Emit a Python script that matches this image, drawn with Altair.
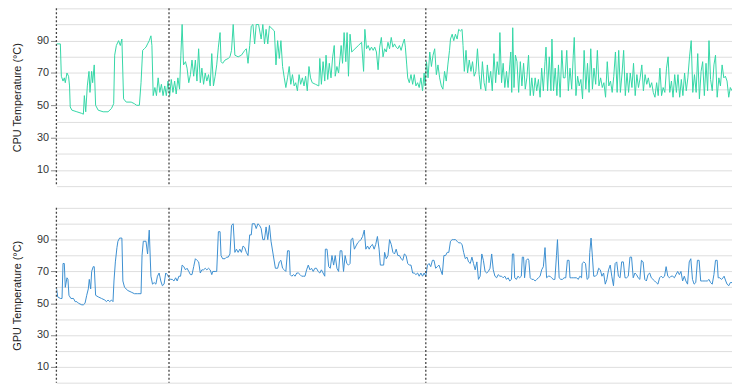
import altair as alt
import pandas as pd

# ---- data (time index, temperature °C) ----
cpu_t = [0, 4, 5, 6.7, 8, 9, 10.7, 12.3, 13.3, 14, 15.7, 20.7, 25.7, 27.3, 28.3, 29.7, 31.3, 33, 34, 35.7,
         36.7, 38.3, 39.7, 42.3, 47.3, 52.3, 55.7, 58, 59, 60.7, 63, 64.7, 66.3, 68, 70.7, 75.7, 79, 81.3, 84, 85.7,
         87.3, 89, 90.7, 92.3, 94, 95.7, 96.7, 98, 99.7, 101.3, 103, 104.7, 106.3, 108, 109.7, 111.3, 113, 114.7, 116.3, 118,
         119.7, 121.3, 123, 124.7, 126, 127.3, 128.7, 130.7, 132.3, 134, 135.7, 137.3, 139, 140.7, 142.3, 144, 145.7, 147.3, 149, 150.7,
         152.3, 154, 155.7, 157.3, 159, 160.7, 162.3, 164, 165.7, 166.7, 168.3, 170.7, 174, 175.7, 177.3, 179, 180.7, 184, 187.3, 190.7,
         192.3, 194, 195.7, 197.3, 199, 200.7, 202.3, 204.7, 207.3, 209, 210.7, 212.3, 214, 215.7,
         220.7, 222.3, 224, 225.7, 227.3, 229, 230.7, 232.3, 234, 235.7, 237.3, 239, 240.7, 242.3, 244, 245.7, 247.3, 249, 250.7, 252.3,
         254, 255.7, 257.3, 259, 262.3, 265.7, 266.7, 268.3, 270, 271.7, 273, 274.7, 276.3, 278, 279.7, 281.3, 282.3, 284, 285.7, 287.3,
         288.3, 289.7, 291.3, 293, 294.3, 295.7, 297.3, 299, 302.3, 305.7, 309, 311, 312.3, 314, 315.7, 317.3, 319, 320.7, 322.3, 324,
         325.7, 327.3, 329, 330.7, 332.3, 334, 335.7, 337.3, 339, 340.7, 342.3, 344, 345.7, 347.3, 349, 350.7, 352.3, 353.3, 354.7, 355.7,
         357.3, 359, 360.7, 362.3, 364, 365.7, 367.3, 369, 370.7, 372.3, 373.3, 374.7, 376.3, 378, 379.7, 381.3, 383, 384.7, 386.3, 388,
         389.7, 391.3, 393, 394.7, 396.3, 398, 399, 400.7, 402.3, 404, 405.7, 407.3, 409, 410.7, 411.7, 413, 414.7, 416.3, 418, 419.7,
         421.3, 423, 424.7, 426.3, 428, 429.7, 431.3, 433, 434.7, 436.3, 438, 439.7, 441.3, 443, 444.7, 446.3, 448,
         449, 450.7, 452.3, 454, 455.7, 457.3, 459, 460, 461, 462, 463.3, 464.7, 466.3, 468, 469.7, 471.3, 473, 474.7, 476.3, 478,
         479.7, 481.3, 483, 484.7, 486.3, 488, 489.7, 491.3, 493, 494.7, 495.7, 497.3, 499, 500.7, 501.7, 503.3, 505, 506.7, 508.3, 510,
         511.7, 513.3, 515, 516.7, 518.3, 520, 521.7, 523.3, 524.3, 526, 527.7, 529.3, 531, 532.7, 534.3, 536, 537.7, 539.3, 541, 542.7,
         544.3, 546, 547.7, 549.3, 551, 552.7, 554.3, 556, 557.7, 559.3, 561, 562.7, 564.3, 566, 567.7, 569.3, 571, 572.7, 574.3, 576,
         577.7, 579.3, 581, 582.7, 584.3, 586, 587.7, 589.3, 591, 592.7, 594.3, 596, 597.7, 599.3, 601, 602.7, 604.3, 606, 607.7, 609.3,
         611, 612.7, 614.3, 616, 617.7, 619.3, 621, 622.7, 624.3, 626, 627.7, 629.3, 631, 632.7, 634.3, 636, 637.7, 639.3, 641, 642.7,
         644.3, 646, 647.7, 649.3, 651, 652.7, 654.3, 656, 657.7, 659.3, 660.7, 662.3, 664, 665.7, 667.3, 669, 670.7, 672.3, 674, 675.7,
         677.3, 679, 680.7, 682.3, 684]
cpu_v = [88, 88, 68, 65, 67, 64, 70, 68, 62, 49, 47, 46, 45, 44.5, 56, 46, 62, 71, 58, 71,
         64, 75, 50, 47, 46, 46, 48, 51, 81, 87, 90, 87, 91, 54, 52, 52, 51, 50, 50, 64,
         84, 85, 86, 88, 90, 93, 87, 56, 61, 56, 67, 58, 63, 56, 62, 56, 65, 56, 66, 58,
         65, 57, 67, 60, 81, 100, 75, 77, 73, 64, 69, 78, 68, 78, 65, 85, 64, 73, 63, 70,
         65, 69, 62, 82, 62, 68, 75, 86, 95, 77, 76, 78, 79, 80, 84, 100, 81, 80, 81, 84,
         85, 76, 87, 99, 100, 88, 100, 100, 91, 100, 88, 97, 88, 99,
         96, 75, 90, 79, 90, 74, 67, 61, 67, 74, 63, 69, 62, 64, 59, 69, 63, 67, 62, 68,
         59, 74, 67, 64, 63, 62, 79, 63, 77, 65, 81, 66, 76, 67, 80, 87, 68, 74, 70, 80,
         87, 76, 95, 77, 95, 68, 94, 83, 85, 87, 89, 71, 97, 85, 87, 84, 86, 84, 86, 83,
         72, 86, 92, 80, 85, 83, 89, 85, 92, 86, 88, 86, 85, 87, 84, 88, 91, 86, 75, 67,
         64, 69, 63, 69, 62, 64, 61, 67, 59, 70, 62, 77, 67, 83, 74, 81, 85, 69, 75, 67,
         62, 60, 71, 65, 75, 84, 91, 94, 90, 94, 91, 97, 96, 97, 87, 71, 84, 70, 78, 71,
         77, 68, 71, 85, 69, 60, 77, 64, 59, 75, 64, 71, 59, 82, 64, 77, 69,
         95, 64, 76, 61, 71, 61, 75, 83, 58, 98, 61, 81, 77, 58, 77, 62, 76, 60, 67, 81,
         56, 67, 56, 67, 59, 66, 55, 73, 59, 77, 86, 59, 80, 59, 91, 59, 73, 56, 75, 55,
         84, 67, 67, 84, 59, 73, 60, 81, 92, 56, 68, 62, 66, 54, 84, 60, 76, 58, 85, 60,
         73, 63, 84, 62, 67, 61, 64, 55, 77, 62, 65, 58, 68, 83, 58, 84, 58, 70, 84, 56,
         70, 58, 70, 61, 76, 56, 69, 61, 67, 75, 59, 69, 63, 67, 61, 64, 58, 55, 64, 56,
         73, 56, 61, 58, 73, 80, 58, 65, 55, 69, 58, 69, 55, 66, 56, 70, 59, 67, 80, 90,
         58, 69, 58, 82, 54, 71, 77, 56, 76, 59, 90, 66, 59, 75, 81, 55, 67, 62, 75, 67,
         68, 65, 55, 61, 59]

gpu_t = [0, 1.3, 4, 5.7, 6.7, 8, 9, 10.7, 11.7, 12.7, 14.7, 17.3, 19, 20.7, 22.3, 25.7, 27.3, 29, 30.7, 32.3,
         33.3, 34.7, 35.7, 37.3, 38.3, 39.7, 42.3, 45.7, 49, 50.7, 52.3, 54, 55.7, 57.3, 58.3, 59.7, 61.3, 62.3, 64, 66.3,
         67.3, 69, 72.3, 75.7, 79, 82.3, 85.7, 86.7, 88, 90.7, 92.3, 94, 95.7, 97.3, 99, 100.7, 102.3, 104, 105.7, 107.3,
         109, 110.7, 112.3, 114, 115.7, 117.3, 119, 120.7, 122.3, 124, 125.7, 127.3, 129, 130.7, 132.3, 134, 135.7, 137.3, 139, 140.7,
         142.3, 144, 145.7, 147.3, 149, 150.7, 152.3, 154, 155.7, 157.3, 158.3, 160.7, 162.3, 164, 165.7, 166.7, 168.3, 170.7, 172.3, 174,
         175.7, 177.3, 179, 180.7, 182.3, 184, 185.7, 187.3, 189, 190.7, 192.3, 194, 195.7, 197.3, 198.3, 200.7, 202.3, 204, 205.7, 207.3,
         209, 210.7, 212.3, 214, 215.7, 217.3,
         221.7, 224, 225.7, 227.3, 229, 230.7, 232.3, 234, 235.7, 236.7, 238.3, 240, 241.7, 243.3, 245, 246.7, 248.3, 250, 251.7, 253.3,
         255, 256.7, 258.3, 260, 261.7, 263.3, 265, 266.7, 268.3, 270, 271.7, 272.3, 274, 275.7, 277.3, 279, 280.7, 282.3, 284, 285.7,
         287.3, 289, 290.7, 292.3, 294, 295.7, 297.3, 298.3, 300, 301.7, 303.3, 305, 306.7, 308.3, 310, 311.7, 313.3, 315, 316.7, 318.3,
         320, 321.7, 323.3, 325, 326.7, 328, 329.7, 331.3, 332.3, 334, 335.7, 337.3, 339, 340.7, 342.3, 344, 345.7, 347.3, 349, 350.7,
         352.3, 354, 355.7, 357.3, 359, 360.7, 362.3, 364, 365.7, 367.3, 369, 370.7, 372.3, 374, 375.7, 377.3, 379, 380.7, 382.3, 384,
         385.7, 387.3, 389, 390.7, 392.3, 394, 395.7, 397.3, 399, 400.7, 402.3, 404, 405.7, 407.3, 409, 410.7, 412.3, 414, 415.7, 417.3,
         419, 420.7, 422.3, 424, 425.7, 427.3, 429, 430.7, 432.3, 434, 435.7, 437.3, 439, 440.7, 442.3, 444, 445.7, 447.3, 449,
         450.7, 452.3, 454, 455.7, 457.3, 459, 460.7, 461.7, 463, 464, 465.7, 467.3, 469, 470.7, 471.7, 473, 474, 475.7, 477.3, 478.3,
         479.7, 481.3, 483, 484.7, 486.3, 488, 489.7, 491.3, 493, 494.7, 496.3, 498, 499.7, 501.3, 503, 504.7, 506.3, 507.3, 509, 510.7,
         512.3, 514, 515.7, 517.3, 519, 520, 521.7, 523.3, 525, 526.7, 528.3, 530, 531.7, 532.3, 534, 535.7, 537.3, 539, 540, 541.3,
         542.7, 544, 545.7, 547.3, 549, 550.7, 552.3, 554, 555.7, 557.3, 559, 560.7, 562.3, 564, 565.7, 567.3, 569, 570.7, 572.3, 574,
         575.7, 577.3, 579, 580.7, 582.3, 584, 585.7, 587.3, 589, 590.7, 592.3, 594, 595.7, 597.3, 599, 600.7, 602.3, 604, 605.7, 607.3,
         609, 610.7, 612.3, 614, 615.7, 617.3, 619, 620.7, 622.3, 624, 625.7, 627.3, 629, 630.7, 632.3, 634, 635.7, 637.3, 639, 640.7,
         642.3, 644, 645.7, 647.3, 649, 650.7, 652.3, 654, 655.7, 657.3, 659, 660.7, 662.3, 664, 665.7, 667.3, 669, 670, 671.7, 673.3,
         675, 676, 677.7, 679, 680.7, 682.3, 684]
gpu_v = [60, 54, 53, 53, 75, 75, 60, 66, 65, 55, 53, 53, 51, 51, 50, 49, 49, 50, 55, 59,
         65, 59, 70, 73, 73, 55, 54, 53, 52, 51, 52, 51, 52, 51, 64, 76, 85, 89, 91, 91,
         64, 60, 58, 57, 56, 56, 56, 80, 89, 89, 81, 96, 67, 62, 63, 62, 67, 69, 64, 61,
         62, 69, 68, 66, 65, 65, 64, 66, 64, 67, 67, 74, 73, 71, 72, 70, 68, 68, 73, 78,
         77, 76, 69, 71, 71, 72, 71, 72, 71, 68, 70, 70, 70, 95, 95, 80, 78, 78, 79, 79,
         81, 99, 100, 82, 84, 82, 84, 82, 86, 85, 82, 80, 93, 93, 100, 100, 97, 100, 99, 97,
         90, 90, 98, 90, 99, 89,
         72, 72, 76, 77, 72, 71, 70, 83, 83, 68, 67, 68, 67, 69, 69, 68, 67, 67, 67, 71,
         74, 71, 72, 70, 72, 72, 70, 69, 71, 69, 67, 84, 84, 73, 72, 80, 74, 80, 72, 70,
         83, 83, 70, 80, 75, 74, 75, 90, 91, 84, 86, 88, 89, 90, 92, 96, 84, 86, 84, 86,
         87, 84, 87, 92, 84, 74, 74, 74, 82, 78, 80, 90, 87, 82, 81, 84, 80, 80, 78, 77,
         81, 80, 75, 74, 74, 69, 69, 68, 69, 67, 69, 67, 69, 67, 74, 75, 73, 77, 77, 72,
         73, 74, 71, 68, 80, 80, 82, 82, 89, 90, 90, 90, 89, 88, 88, 87, 82, 78, 79, 76,
         75, 79, 75, 71, 76, 65, 67, 81, 77, 70, 69, 70, 72, 81, 71, 67, 66, 68, 67,
         67, 66, 67, 65, 66, 64, 65, 81, 81, 66, 65, 67, 66, 67, 79, 79, 66, 77, 78, 77,
         66, 65, 65, 64, 65, 66, 67, 71, 73, 85, 66, 67, 67, 66, 65, 65, 80, 90, 66, 65,
         65, 66, 66, 77, 77, 66, 66, 66, 66, 66, 65, 67, 66, 75, 76, 75, 65, 66, 82, 91,
         79, 67, 67, 68, 72, 71, 67, 69, 62, 65, 71, 74, 67, 61, 75, 76, 67, 66, 76, 76,
         66, 66, 67, 79, 79, 66, 69, 68, 66, 65, 77, 76, 65, 64, 68, 69, 66, 65, 64, 63,
         62, 66, 67, 66, 67, 73, 67, 66, 67, 67, 66, 68, 70, 68, 70, 64, 67, 64, 62, 76,
         78, 65, 62, 63, 77, 77, 64, 64, 64, 64, 64, 65, 63, 62, 68, 77, 77, 66, 66, 65,
         66, 67, 64, 62, 61, 63, 63]

markers = [0, 114, 374]

y_grid_values = [0, 10, 20, 30, 40, 50, 60, 70, 80, 90, 100, 110]

FONT = "Liberation Sans"
cpu_df = pd.DataFrame({"t": cpu_t, "v": cpu_v})
gpu_df = pd.DataFrame({"t": gpu_t, "v": gpu_v})
mk_df = pd.DataFrame({"t": markers})

X_DOMAIN = [0, 684]
LABELLED = "datum.value % 20 == 10 && datum.value < 100"


def panel(df, color, title, height):
    yaxis = alt.Axis(
        values=y_grid_values,
        labelExpr=f"{LABELLED} ? datum.label : ''",
        tickOpacity={"condition": {"test": LABELLED, "value": 1}, "value": 0},
        tickSize=6,
        tickColor="#888",
        labelPadding=2,
        labelFontSize=11,
        labelColor="#333",
        labelFont=FONT,
        grid=True,
        gridColor="#dddddd",
        domain=False,
        title=title,
        titleFont=FONT,
        titleFontSize=11,
        titleFontWeight="normal",
        titleColor="#222",
        titlePadding=14,
    )
    line = alt.Chart(df).mark_line(color=color, strokeWidth=1, clip=True).encode(
        x=alt.X("t:Q", scale=alt.Scale(domain=X_DOMAIN, nice=False, zero=False), axis=None),
        y=alt.Y("v:Q", scale=alt.Scale(domain=[0, 110], nice=False), axis=yaxis),
    )
    rules = alt.Chart(mk_df).mark_rule(color="#444", strokeWidth=1.3, strokeDash=[2, 2]).encode(
        x=alt.X("t:Q", scale=alt.Scale(domain=X_DOMAIN, nice=False, zero=False), axis=None),
    )
    return alt.layer(line, rules).properties(width=684, height=height)


top = panel(cpu_df, "#33d6a6", "CPU Temperature (°C)", 180)
bottom = panel(gpu_df, "#3b8ed0", "GPU Temperature (°C)", 177)

chart = alt.vconcat(top, bottom, spacing=20).properties(
    padding={"left": 3, "top": -3, "right": 0, "bottom": 0}
).configure_view(stroke=None)

chart.save("out.html", embed_options={"renderer": "svg", "actions": False})
